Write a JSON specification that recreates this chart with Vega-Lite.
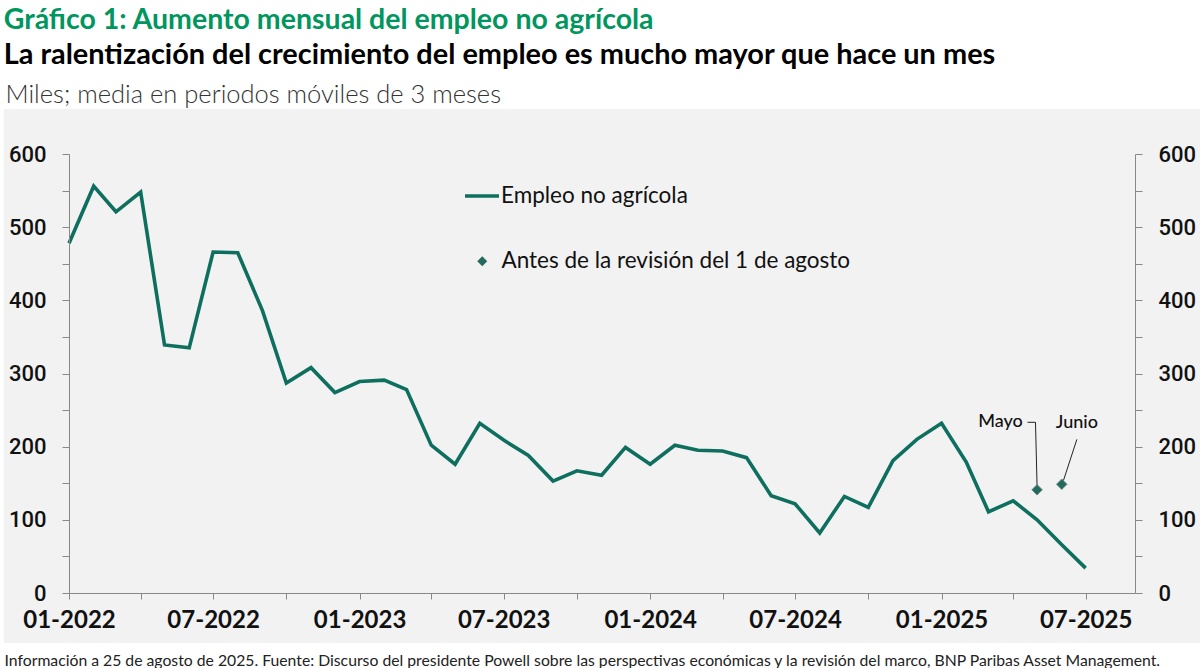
{
  "$schema": "https://vega.github.io/schema/vega-lite/v6.json",
  "width": 1066,
  "height": 439,
  "autosize": {"type": "none"},
  "padding": {"left": 69, "top": 154, "right": 65, "bottom": 75},
  "background": "white",
  "config": {
    "view": {"stroke": null, "fill": "#f2f2f2"},
    "font": "Lato",
    "axis": {"zindex": 1},
    "legend": {"labelFont": "Lato", "labelFontSize": 22.5, "labelColor": "#111", "labelLimit": 600, "padding": 0, "zindex": 2}
  },
  "title": {
    "text": "Gráfico 1: Aumento mensual del empleo no agrícola",
    "subtitle": "La ralentización del crecimiento del empleo es mucho mayor que hace un mes",
    "anchor": "start",
    "frame": "bounds",
    "font": "Lato",
    "fontSize": 28.5,
    "fontWeight": "bold",
    "color": "#00965e",
    "subtitleFont": "Lato",
    "subtitleFontSize": 28.9,
    "subtitleFontWeight": "bold",
    "subtitleColor": "#000000",
    "subtitlePadding": 6,
    "offset": 13
  },
  "datasets": {
    "empleo": [
      {"fecha": "2022-01-01", "v": 478}, {"fecha": "2022-02-01", "v": 556}, {"fecha": "2022-03-01", "v": 521},
      {"fecha": "2022-04-01", "v": 548}, {"fecha": "2022-05-01", "v": 339}, {"fecha": "2022-06-01", "v": 335},
      {"fecha": "2022-07-01", "v": 466}, {"fecha": "2022-08-01", "v": 465}, {"fecha": "2022-09-01", "v": 386},
      {"fecha": "2022-10-01", "v": 287}, {"fecha": "2022-11-01", "v": 308}, {"fecha": "2022-12-01", "v": 274},
      {"fecha": "2023-01-01", "v": 289}, {"fecha": "2023-02-01", "v": 291}, {"fecha": "2023-03-01", "v": 278},
      {"fecha": "2023-04-01", "v": 202}, {"fecha": "2023-05-01", "v": 176}, {"fecha": "2023-06-01", "v": 232},
      {"fecha": "2023-07-01", "v": 209}, {"fecha": "2023-08-01", "v": 188}, {"fecha": "2023-09-01", "v": 153},
      {"fecha": "2023-10-01", "v": 167}, {"fecha": "2023-11-01", "v": 161}, {"fecha": "2023-12-01", "v": 199},
      {"fecha": "2024-01-01", "v": 176}, {"fecha": "2024-02-01", "v": 202}, {"fecha": "2024-03-01", "v": 195},
      {"fecha": "2024-04-01", "v": 194}, {"fecha": "2024-05-01", "v": 185}, {"fecha": "2024-06-01", "v": 133},
      {"fecha": "2024-07-01", "v": 122}, {"fecha": "2024-08-01", "v": 82}, {"fecha": "2024-09-01", "v": 132},
      {"fecha": "2024-10-01", "v": 117}, {"fecha": "2024-11-01", "v": 181}, {"fecha": "2024-12-01", "v": 210},
      {"fecha": "2025-01-01", "v": 232}, {"fecha": "2025-02-01", "v": 179}, {"fecha": "2025-03-01", "v": 111},
      {"fecha": "2025-04-01", "v": 126}, {"fecha": "2025-05-01", "v": 100}, {"fecha": "2025-06-01", "v": 66},
      {"fecha": "2025-07-01", "v": 34}
    ],
    "antes": [
      {"fecha": "2025-05-01", "v": 141, "mes": "Mayo"},
      {"fecha": "2025-06-01", "v": 148.6, "mes": "Junio"}
    ],
    "etiquetas": [
      {"fecha": "2025-03-16", "v": 227.3, "lab": "Mayo"},
      {"fecha": "2025-06-20", "v": 225, "lab": "Junio"}
    ],
    "conectores": [
      {"ann": "Mayo", "k": 1, "fecha": "2025-04-19", "v": 233.3},
      {"ann": "Mayo", "k": 2, "fecha": "2025-04-29", "v": 233.3},
      {"ann": "Mayo", "k": 3, "fecha": "2025-05-01", "v": 146.2},
      {"ann": "Junio", "k": 1, "fecha": "2025-06-20", "v": 210},
      {"ann": "Junio", "k": 2, "fecha": "2025-06-02", "v": 150}
    ]
  },
  "layer": [
    {
      "data": {"values": [{}]},
      "mark": {"type": "rect", "fill": "#f2f2f2", "opacity": 1, "clip": false},
      "encoding": {
        "x": {"datum": 1633910400000, "type": "temporal", "scale": {"type": "utc", "domain": [1640995200000, 1756684800000]}, "axis": null},
        "x2": {"datum": 1769904000000},
        "y": {"datum": 661.5, "type": "quantitative", "scale": {"domain": [0, 600], "nice": false, "zero": false}, "axis": null},
        "y2": {"datum": -68.3}
      }
    },
    {
      "data": {"name": "empleo"},
      "mark": {"type": "line", "strokeWidth": 3.6, "strokeJoin": "miter"},
      "encoding": {
        "x": {
          "field": "fecha", "type": "temporal",
          "axis": {
            "zindex": 1,
            "values": [
              {"year": 2022, "month": 1, "date": 1, "utc": true}, {"year": 2022, "month": 4, "date": 1, "utc": true},
              {"year": 2022, "month": 7, "date": 1, "utc": true}, {"year": 2022, "month": 10, "date": 1, "utc": true},
              {"year": 2023, "month": 1, "date": 1, "utc": true}, {"year": 2023, "month": 4, "date": 1, "utc": true},
              {"year": 2023, "month": 7, "date": 1, "utc": true}, {"year": 2023, "month": 10, "date": 1, "utc": true},
              {"year": 2024, "month": 1, "date": 1, "utc": true}, {"year": 2024, "month": 4, "date": 1, "utc": true},
              {"year": 2024, "month": 7, "date": 1, "utc": true}, {"year": 2024, "month": 10, "date": 1, "utc": true},
              {"year": 2025, "month": 1, "date": 1, "utc": true}, {"year": 2025, "month": 4, "date": 1, "utc": true},
              {"year": 2025, "month": 7, "date": 1, "utc": true}
            ],
            "labelExpr": "(utcFormat(datum.value, '%m') == '01' || utcFormat(datum.value, '%m') == '07') ? utcFormat(datum.value, '%m-%Y') : ''",
            "labelFont": "Lato", "labelFontSize": 24, "labelFontWeight": "bold", "labelColor": "#111",
            "labelBaseline": "alphabetic", "labelPadding": 28, "labelFlush": false, "labelOverlap": false,
            "tickSize": 6, "tickColor": "#888", "domainColor": "#888", "grid": false,
            "title": "Información a 25 de agosto de 2025. Fuente: Discurso del presidente Powell sobre las perspectivas económicas y la revisión del marco, BNP Paribas Asset Management.",
            "titleX": -65, "titleY": 72, "titleAlign": "left", "titleAnchor": "start", "titleBaseline": "alphabetic",
            "titleFont": "Lato", "titleFontSize": 15.75, "titleFontWeight": "normal", "titleColor": "#222", "titleLimit": 1200
          }
        },
        "y": {
          "field": "v", "type": "quantitative",
          "axis": {
            "zindex": 1,
            "values": [0, 50, 100, 150, 200, 250, 300, 350, 400, 450, 500, 550, 600],
            "labelExpr": "datum.value % 100 == 0 ? datum.label : ''",
            "labelFont": "Roboto", "labelFontSize": 22, "labelFontWeight": 500, "labelColor": "#111",
            "labelPadding": 16, "tickSize": 7, "tickColor": "#888", "domainColor": "#888", "grid": false,
            "title": "Miles; media en periodos móviles de 3 meses",
            "titleAngle": 0, "titleX": -64, "titleY": -51.4, "titleAlign": "left", "titleAnchor": "start", "titleBaseline": "alphabetic",
            "titleFont": "Lato", "titleFontSize": 25.5, "titleFontWeight": 300, "titleColor": "#333", "titleLimit": 800
          }
        },
        "color": {
          "datum": "Empleo no agrícola",
          "scale": {"range": ["#0e6f5f"]},
          "legend": {"orient": "none", "legendX": 394, "legendY": 23, "title": null, "symbolSize": 1156, "symbolStrokeWidth": 3.6, "labelOffset": 0}
        }
      }
    },
    {
      "data": {"name": "conectores"},
      "mark": {"type": "line", "color": "#222", "strokeWidth": 1},
      "encoding": {
        "x": {"field": "fecha", "type": "temporal", "axis": null},
        "y": {"field": "v", "type": "quantitative", "axis": null},
        "detail": {"field": "ann"},
        "order": {"field": "k"}
      }
    },
    {
      "data": {"name": "etiquetas"},
      "mark": {"type": "text", "font": "Lato", "fontSize": 18, "fontWeight": 500, "color": "#111", "align": "center", "baseline": "alphabetic"},
      "encoding": {
        "x": {"field": "fecha", "type": "temporal", "axis": null},
        "y": {"field": "v", "type": "quantitative", "axis": null},
        "text": {"field": "lab"}
      }
    },
    {
      "data": {"name": "antes"},
      "mark": {"type": "point", "filled": true, "size": 110, "color": "#246b5f", "stroke": "#6f8a84", "strokeWidth": 1, "opacity": 1},
      "encoding": {
        "x": {"field": "fecha", "type": "temporal", "axis": null},
        "y": {
          "field": "v", "type": "quantitative",
          "axis": {
            "zindex": 1,
            "orient": "right",
            "values": [0, 50, 100, 150, 200, 250, 300, 350, 400, 450, 500, 550, 600],
            "labelExpr": "datum.value % 100 == 0 ? datum.label : ''",
            "labelFont": "Roboto", "labelFontSize": 22, "labelFontWeight": 500, "labelColor": "#111",
            "labelPadding": 16, "tickSize": 7, "tickColor": "#888", "domainColor": "#888", "grid": false, "title": null
          }
        },
        "shape": {
          "datum": "Antes de la revisión del 1 de agosto",
          "scale": {"range": ["diamond"]},
          "legend": {"orient": "none", "legendX": 402, "legendY": 96, "title": null, "symbolSize": 100, "symbolFillColor": "#246b5f", "symbolStrokeColor": "#6f8a84", "symbolStrokeWidth": 1, "labelOffset": 8}
        }
      }
    }
  ],
  "resolve": {"axis": {"x": "independent", "y": "independent"}}
}
